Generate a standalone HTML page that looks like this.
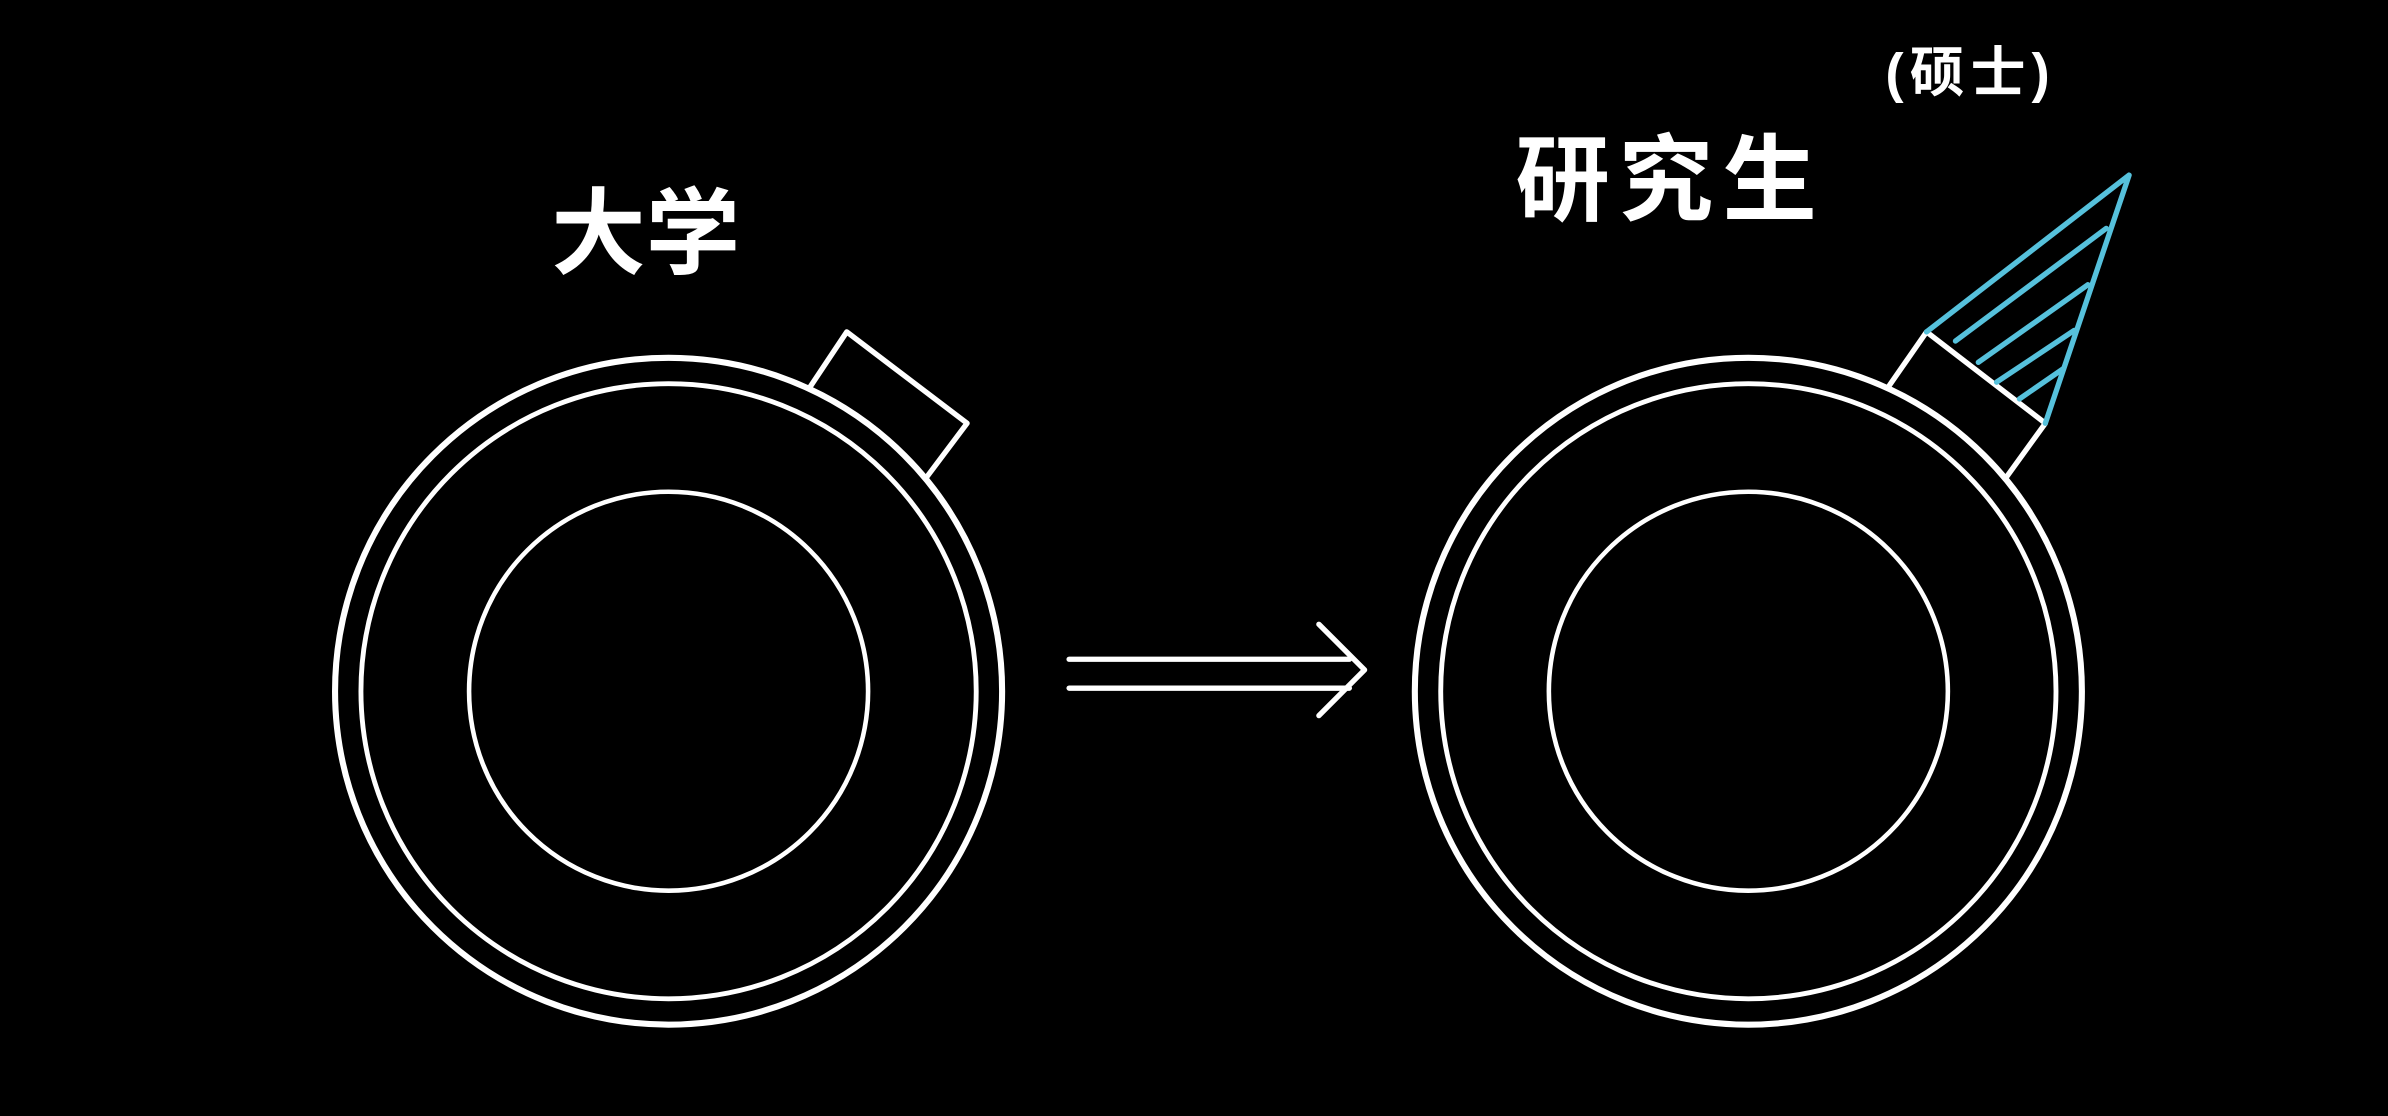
<!DOCTYPE html>
<html>
<head>
<meta charset="utf-8">
<style>
html,body{margin:0;padding:0;background:#000;width:2388px;height:1116px;overflow:hidden;}
svg{display:block;}
text{font-family:"Liberation Sans","Noto Sans CJK SC",sans-serif;fill:#fff;}
</style>
</head>
<body>
<svg width="2388" height="1116" viewBox="0 0 1568 733" preserveAspectRatio="none">
<rect width="1568" height="733" fill="#000"/>
<g fill="none" stroke="#fff" stroke-linecap="round" stroke-linejoin="round">
  <circle cx="439" cy="454" r="219" stroke-width="4"/>
  <circle cx="439" cy="454" r="202" stroke-width="3.2"/>
  <circle cx="439" cy="454" r="131" stroke-width="3"/>
  <polyline points="532,254 556,218 635,278 608,314" stroke-width="3.5"/>
  <circle cx="1148" cy="454" r="219" stroke-width="4"/>
  <circle cx="1148" cy="454" r="202" stroke-width="3.2"/>
  <circle cx="1148" cy="454" r="131" stroke-width="3"/>
  <polyline points="1240,254 1265,218 1343,278 1317,314" stroke-width="3.5"/>
  <line x1="702" y1="433" x2="886" y2="433" stroke-width="3.5"/>
  <line x1="702" y1="452" x2="886" y2="452" stroke-width="3.5"/>
  <polyline points="866,410 896,440 866,470" stroke-width="3.5"/>
</g>
<g fill="none" stroke="#56c1dc" stroke-width="3.5" stroke-linecap="round" stroke-linejoin="round">
  <polyline points="1265,218 1398,115 1343,278"/>
  <line x1="1284" y1="224" x2="1383" y2="150"/>
  <line x1="1299" y1="238" x2="1371" y2="187"/>
  <line x1="1311" y1="251" x2="1362" y2="217"/>
  <line x1="1326" y1="262" x2="1355" y2="242"/>
</g>
<text x="362" y="175" font-size="62" font-weight="bold">大学</text>
<text x="995" y="140" font-size="62" letter-spacing="6" font-weight="bold">研究生</text>
<text x="1238" y="60" font-size="36" letter-spacing="4" font-weight="bold">(硕士)</text>
</svg>
</body>
</html>
